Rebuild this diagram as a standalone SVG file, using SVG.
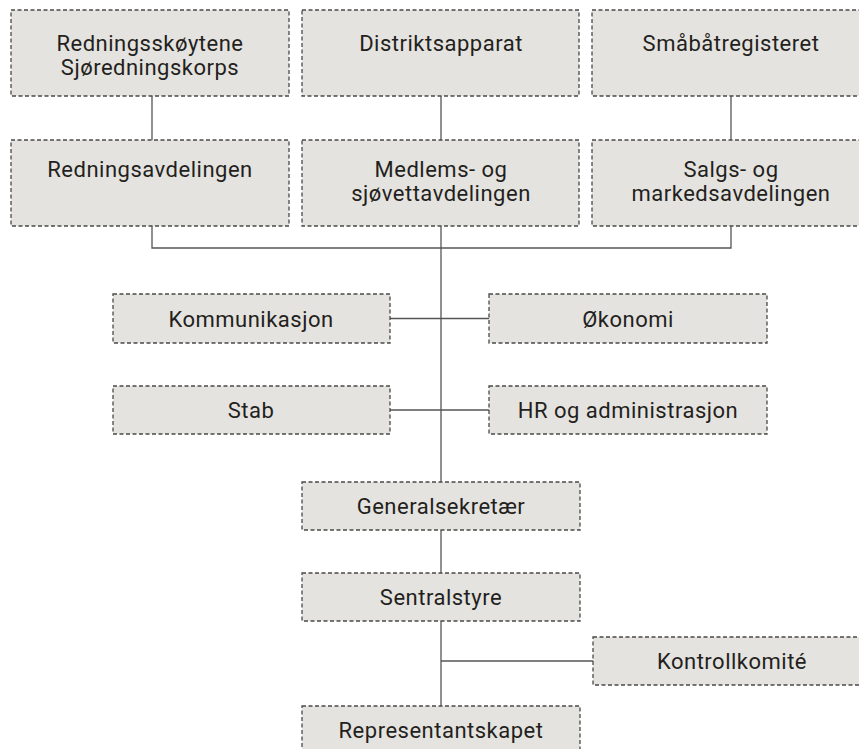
<svg xmlns="http://www.w3.org/2000/svg" width="859" height="749" viewBox="0 0 859 749">
<style>
.box{fill:#e5e3df;stroke:#4a4a4a;stroke-width:1.3;stroke-dasharray:4 2.5}
.t{font-family:Roboto,"Liberation Sans",sans-serif;font-size:22px;letter-spacing:0.5px;fill:#231f20;text-anchor:middle}
.c{stroke:#555;stroke-width:1.3;fill:none}
</style>
<rect width="859" height="749" fill="#fff"/>
<g id="connectors">
<line class="c" x1="152" y1="96" x2="152" y2="140"/>
<line class="c" x1="441" y1="96" x2="441" y2="140"/>
<line class="c" x1="731" y1="96" x2="731" y2="140"/>
<polyline class="c" points="152,226 152,248 731,248 731,226"/>
<line class="c" x1="441" y1="226" x2="441" y2="482"/>
<line class="c" x1="390" y1="318.5" x2="489" y2="318.5"/>
<line class="c" x1="390" y1="410" x2="489" y2="410"/>
<line class="c" x1="441" y1="530" x2="441" y2="573"/>
<line class="c" x1="441" y1="621" x2="441" y2="706"/>
<line class="c" x1="441" y1="661" x2="593" y2="661"/>
</g>
<g id="n1"><rect class="box" x="11" y="10" width="278" height="86"/><text class="t" x="150" y="51">Redningsskøytene</text><text class="t" x="150" y="75">Sjøredningskorps</text></g>
<g id="n2"><rect class="box" x="302" y="10" width="277" height="86"/><text class="t" x="441" y="51">Distriktsapparat</text></g>
<g id="n3"><rect class="box" x="592" y="10" width="278" height="86"/><text class="t" x="731" y="51">Småbåtregisteret</text></g>
<g id="n4"><rect class="box" x="11" y="140" width="278" height="86"/><text class="t" x="150" y="177">Redningsavdelingen</text></g>
<g id="n5"><rect class="box" x="302" y="140" width="277" height="86"/><text class="t" x="441" y="177">Medlems- og</text><text class="t" x="441" y="201">sjøvettavdelingen</text></g>
<g id="n6"><rect class="box" x="592" y="140" width="278" height="86"/><text class="t" x="731" y="177">Salgs- og</text><text class="t" x="731" y="201">markedsavdelingen</text></g>
<g id="n7"><rect class="box" x="113" y="294" width="277" height="49"/><text class="t" x="251" y="326.5">Kommunikasjon</text></g>
<g id="n8"><rect class="box" x="489" y="294" width="278" height="49"/><text class="t" x="628" y="326.5">Økonomi</text></g>
<g id="n9"><rect class="box" x="113" y="386" width="277" height="48"/><text class="t" x="251" y="418">Stab</text></g>
<g id="n10"><rect class="box" x="489" y="386" width="278" height="48"/><text class="t" x="628" y="418">HR og administrasjon</text></g>
<g id="n11"><rect class="box" x="302" y="482" width="278" height="48"/><text class="t" x="441" y="514">Generalsekretær</text></g>
<g id="n12"><rect class="box" x="302" y="573" width="278" height="48"/><text class="t" x="441" y="605">Sentralstyre</text></g>
<g id="n13"><rect class="box" x="593" y="637" width="278" height="48"/><text class="t" x="732" y="669">Kontrollkomité</text></g>
<g id="n14"><rect class="box" x="302" y="706" width="278" height="48"/><text class="t" x="441" y="738">Representantskapet</text></g>
</svg>
